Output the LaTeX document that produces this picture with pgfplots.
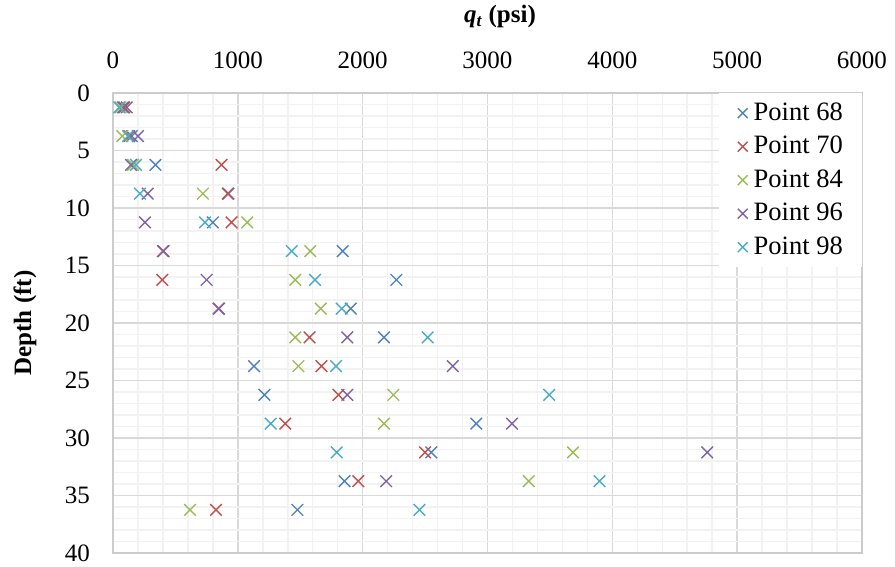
\documentclass[border=0pt]{standalone}
\usepackage{fontspec}
\setmainfont{Liberation Serif}
\usepackage{pgfplots}
\pgfplotsset{compat=1.18}
\definecolor{c68}{HTML}{4F81BD}
\definecolor{c70}{HTML}{C0504D}
\definecolor{c84}{HTML}{9BBB59}
\definecolor{c96}{HTML}{8064A2}
\definecolor{c98}{HTML}{4BACC6}
\newcommand{\bigfont}{\fontsize{25}{30}\selectfont}
\newcommand{\legfont}{\fontsize{26.5}{31}\selectfont}
\begin{document}
\begin{tikzpicture}
\useasboundingbox (-113pt,-14pt) rectangle (782pt,553pt);
\begin{axis}[
  scale only axis,
  width=749pt, height=460pt,
  xmin=0, xmax=6000, ymin=0, ymax=40,
  y dir=reverse,
  xticklabel pos=top,
  xtick={0,1000,...,6000},
  ytick={0,5,...,40},
  minor x tick num=4,
  minor y tick num=4,
  grid=both,
  major grid style={draw=black!15, line width=1.5pt},
  minor grid style={draw=black!5, line width=1.5pt},
  axis line style={draw=black!20, line width=1.5pt},
  major tick length=0pt, minor tick length=0pt,
  tick style={draw=none},
  /pgf/number format/assume math mode=true,
  /pgf/number format/set thousands separator={},
  tick label style={font=\bigfont, inner sep=0pt},
  xticklabel style={anchor=south, yshift=24pt},
  yticklabel style={anchor=east, xshift=-23pt},
  legend cell align=left,
  legend image code/.code={\draw[mark repeat=2,mark phase=2,mark size=7pt] plot coordinates {(0pt,0pt)(7pt,0pt)(14pt,0pt)};},
  legend style={at={(axis description cs:1,1)}, anchor=north east, draw=none, fill=white,
    font=\legfont, inner xsep=19pt, inner ysep=8pt,
    nodes={inner sep=0pt, text height=19pt, text depth=5pt},
    row sep=9.5pt, column sep=6pt},
  every axis plot/.append style={only marks, mark=x, mark size=8.2pt, line width=1.4pt},
]
\addplot[c68] coordinates {(80,1.25)(150,3.75)(340,6.25)(925,8.75)(800,11.25)(1840,13.75)(2270,16.25)(1905,18.75)(2170,21.25)(1130,23.75)(1213,26.25)(2910,28.75)(2550,31.25)(1855,33.75)(1477,36.25)};
\addlegendentry{Point 68}
\addplot[c70] coordinates {(90,1.25)(130,3.75)(870,6.25)(920,8.75)(950,11.25)(400,13.75)(395,16.25)(845,18.75)(1575,21.25)(1670,23.75)(1806,26.25)(1380,28.75)(2500,31.25)(1965,33.75)(825,36.25)};
\addlegendentry{Point 70}
\addplot[c84] coordinates {(60,1.25)(75,3.75)(160,6.25)(720,8.75)(1075,11.25)(1580,13.75)(1460,16.25)(1665,18.75)(1460,21.25)(1485,23.75)(2246,26.25)(2170,28.75)(3685,31.25)(3330,33.75)(617,36.25)};
\addlegendentry{Point 84}
\addplot[c96] coordinates {(110,1.25)(200,3.75)(145,6.25)(278,8.75)(256,11.25)(405,13.75)(750,16.25)(850,18.75)(1877,21.25)(2722,23.75)(1877,26.25)(3197,28.75)(4760,31.25)(2188,33.75)};
\addlegendentry{Point 96}
\addplot[c98] coordinates {(50,1.25)(120,3.75)(184,6.25)(216,8.75)(737,11.25)(1432,13.75)(1619,16.25)(1832,18.75)(2521,21.25)(1787,23.75)(3494,26.25)(1263,28.75)(1792,31.25)(3897,33.75)(2455,36.25)};
\addlegendentry{Point 98}
\end{axis}
\node[anchor=base, font=\bigfont] at (387pt,530pt) {\textbf{\textit{q}\textsubscript{\textit{t}} (psi)}};
\node[rotate=90, anchor=center, font=\bigfont] at (-88pt,230pt) {\textbf{Depth (ft)}};
\end{tikzpicture}
\end{document}
